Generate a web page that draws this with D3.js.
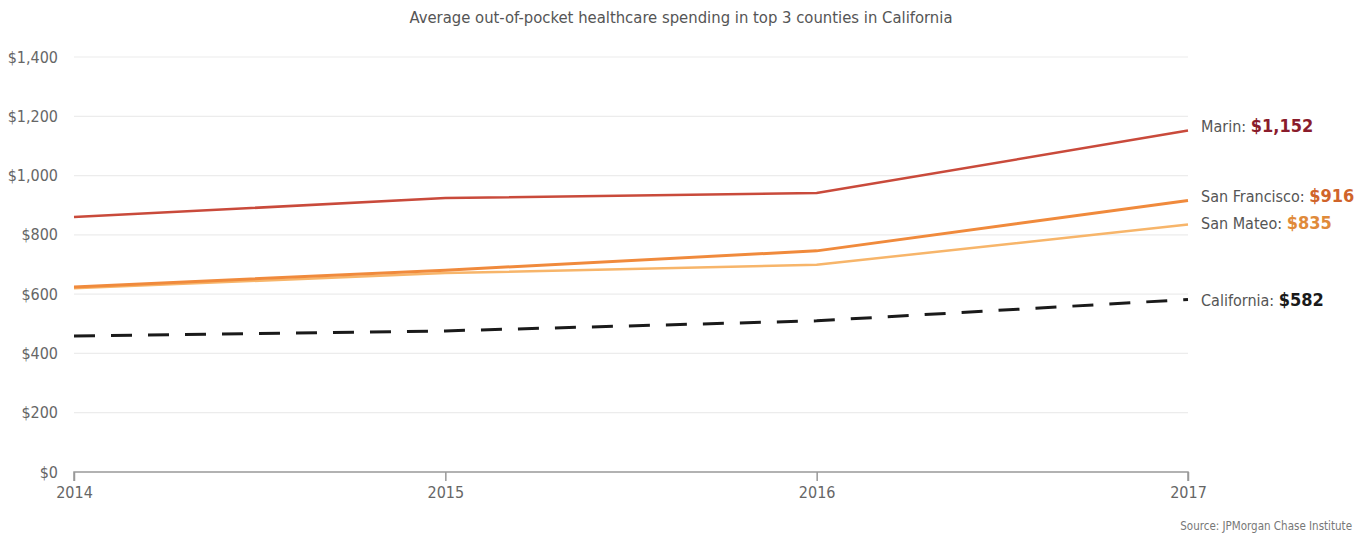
<!DOCTYPE html>
<html>
<head>
<meta charset="utf-8">
<script src="https://cdn.jsdelivr.net/npm/d3@7/dist/d3.min.js"></script>
<style>
  html, body { margin: 0; padding: 0; background: #fff; }
  svg { display: block; font-family: "Liberation Sans Narrow", "DejaVu Sans Condensed", "Open Sans", sans-serif; }
</style>
</head>
<body>
<svg id="chart" width="1372" height="535"></svg>
<script>
// Average out-of-pocket healthcare spending, 2014–2017
const years = [2014, 2015, 2016, 2017];
const marin = [860, 924, 941, 1152];
const sanFrancisco = [624, 681, 746, 916];
const sanMateo = [620, 671, 699, 835];
const california = [459, 476, 510, 582];
const seriesNames = ["Marin", "San Francisco", "San Mateo", "California"];
const yTicks = [0, 200, 400, 600, 800, 1000, 1200, 1400];

const svg = d3.select("#chart");
const margin = { left: 74, right: 184, top: 57, bottom: 63 };
const W = 1372, H = 535;

const x = d3.scaleLinear().domain([2014, 2017]).range([margin.left, W - margin.right]);
const y = d3.scaleLinear().domain([0, 1400]).range([H - margin.bottom, margin.top]);

// Title
svg.append("text")
  .attr("x", 681).attr("y", 23)
  .attr("text-anchor", "middle")
  .attr("font-size", 16.5).attr("fill", "#555")
  .text("Average out-of-pocket healthcare spending in top 3 counties in California");

// Horizontal gridlines
svg.append("g")
  .selectAll("line")
  .data(yTicks.filter(d => d > 0))
  .join("line")
  .attr("x1", x(2014)).attr("x2", x(2017))
  .attr("y1", d => y(d)).attr("y2", d => y(d))
  .attr("stroke", "#ececec").attr("stroke-width", 1.2);

// Y axis labels
const yAxis = d3.axisLeft(y).tickValues(yTicks).tickSize(0).tickPadding(16)
  .tickFormat(d => "$" + d3.format(",")(d));
const gy = svg.append("g").attr("transform", `translate(${margin.left},0)`).call(yAxis);
gy.select(".domain").remove();
gy.selectAll("text").attr("font-size", 16).attr("fill", "#666")
  .attr("font-family", "'Liberation Sans Narrow', 'DejaVu Sans Condensed', sans-serif");

// X axis
const xAxis = d3.axisBottom(x).tickValues(years).tickSize(9).tickPadding(6).tickFormat(d3.format("d"));
const gx = svg.append("g").attr("transform", `translate(0,${y(0)})`).call(xAxis);
gx.select(".domain").attr("stroke", "#999").attr("stroke-width", 1.5).attr("d", `M${x(2014)},9V0H${x(2017)}V9`);
gx.selectAll(".tick line").attr("stroke", "#999").attr("stroke-width", 1.5);
gx.selectAll("text").attr("font-size", 16).attr("fill", "#666")
  .attr("font-family", "'Liberation Sans Narrow', 'DejaVu Sans Condensed', sans-serif");

const line = d3.line().x((d, i) => x(years[i])).y(d => y(d));

const series = [
  { name: seriesNames[0], values: marin, color: "#c94a3b", labelColor: "#8a1c2c", width: 2.5, dash: null, dy: -4 },
  { name: seriesNames[1], values: sanFrancisco, color: "#f08a3c", labelColor: "#d0642a", width: 3, dash: null, dy: -4 },
  { name: seriesNames[2], values: sanMateo, color: "#f7b56a", labelColor: "#e08a3a", width: 2.5, dash: null, dy: -1 },
  { name: seriesNames[3], values: california, color: "#1a1a1a", labelColor: "#1a1a1a", width: 3, dash: "21,16", dy: 1 }
];

// Draw lines (back to front)
svg.append("g")
  .selectAll("path")
  .data(series.slice().reverse())
  .join("path")
  .attr("d", d => line(d.values))
  .attr("fill", "none")
  .attr("stroke", d => d.color)
  .attr("stroke-width", d => d.width)
  .attr("stroke-dasharray", d => d.dash);

// End labels
const labels = svg.append("g")
  .selectAll("text")
  .data(series)
  .join("text")
  .attr("x", x(2017) + 13)
  .attr("y", d => y(d.values[3]) + d.dy)
  .attr("dy", "0.35em")
  .attr("font-size", 16);
labels.append("tspan").attr("fill", "#555").text(d => d.name + ": ");
labels.append("tspan").attr("fill", d => d.labelColor).attr("font-weight", "bold").attr("font-size", 18)
  .text(d => "$" + d3.format(",")(d.values[3]));

// Source
svg.append("text")
  .attr("x", 1352).attr("y", 530)
  .attr("text-anchor", "end")
  .attr("font-size", 11.5).attr("fill", "#777")
  .text("Source: JPMorgan Chase Institute");
</script>
</body>
</html>
